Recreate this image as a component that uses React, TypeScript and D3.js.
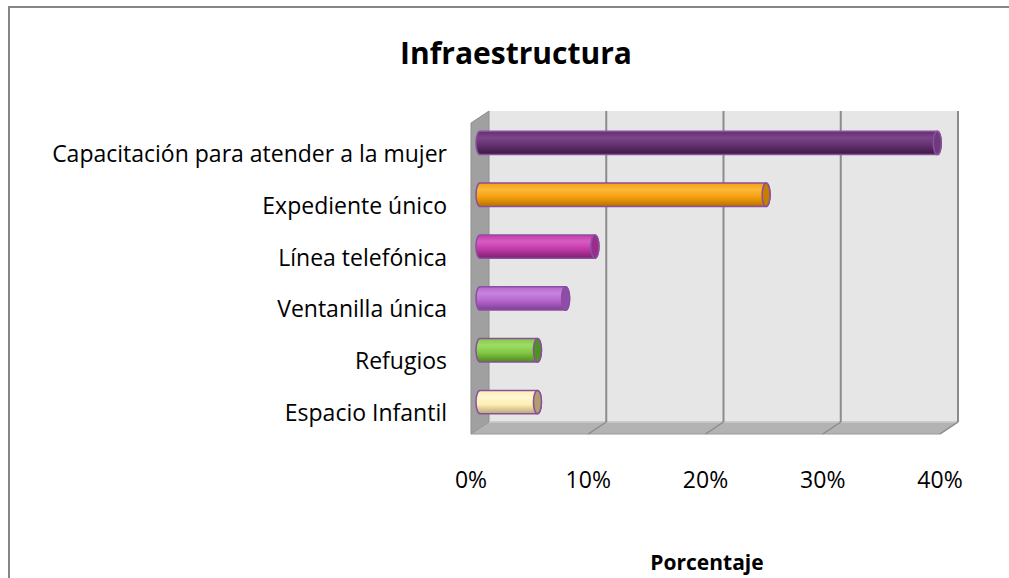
import * as d3 from "d3";

// values (share of answers)
const CATEGORIES = [
  "Capacitación para atender a la mujer",
  "Expediente único",
  "Línea telefónica",
  "Ventanilla única",
  "Refugios",
  "Espacio Infantil",
];
const VALUES = [0.39, 0.244, 0.098, 0.073, 0.049, 0.049];
const TICKS = [0, 0.1, 0.2, 0.3, 0.4];

// top / base / bottom / cap colours for each cylinder
const BAR_TOP = ["#7c4489", "#fbb83a", "#d85cc4", "#c785de", "#9fdc66", "#fff7d4"];
const BAR_BASE = ["#64306f", "#f5a00c", "#c23aa8", "#b566cc", "#82c846", "#ffeeb4"];
const BAR_BOTTOM = ["#3a1842", "#b86f00", "#7e1f6f", "#7e3e94", "#4d8a1c", "#b8a777"];
const BAR_CAP = ["#6e3a7b", "#c67e00", "#9a2c8a", "#8e4ea8", "#4f9222", "#b09e6e"];

const W = 1009;
const H = 578;
const BACK = { left: 489, right: 958, top: 111, bottom: 422 };
const DX = 18;
const DY = 12;
const FONT = "'Open Sans', Lato, sans-serif";

export default function App() {
  const x = d3.scaleLinear().domain([0, 0.4]).range([BACK.left, BACK.right]);
  const y = d3
    .scaleBand<string>()
    .domain(CATEGORIES)
    .range([BACK.top, BACK.bottom])
    .paddingInner(0.55)
    .paddingOuter(0.275);
  const band = d3.scaleBand<string>().domain(CATEGORIES).range([BACK.top, BACK.bottom]);

  const mx = DX / 2;
  const my = DY / 2;
  const h = y.bandwidth();
  const rx = 4;

  const pts = (p: [number, number][]) => p.map((d) => d.join(",")).join(" ");

  return (
    <svg
      width={W}
      height={H}
      style={{ position: "absolute", left: 0, top: 0, background: "#fff" }}
    >
      <defs>
        {CATEGORIES.map((_c, i) => (
          <linearGradient key={i} id={`cyl${i}`} x1="0" y1="0" x2="0" y2="1">
            <stop offset="0%" stopColor={BAR_BASE[i]} />
            <stop offset="28%" stopColor={BAR_TOP[i]} />
            <stop offset="60%" stopColor={BAR_BASE[i]} />
            <stop offset="100%" stopColor={BAR_BOTTOM[i]} />
          </linearGradient>
        ))}
      </defs>

      {/* chart area frame */}
      <rect x={9} y={7} width={W + 10} height={H + 10} fill="#fff" stroke="#868686" strokeWidth={2} />

      <text
        x={516}
        y={52}
        textAnchor="middle"
        dominantBaseline="central"
        fontFamily={FONT}
        fontWeight={700}
        fontSize={30}
        fill="#000"
      >
        Infraestructura
      </text>

      {/* walls */}
      <rect
        x={BACK.left}
        y={BACK.top}
        width={BACK.right - BACK.left}
        height={BACK.bottom - BACK.top}
        fill="#e6e6e6"
      />
      <polygon
        points={pts([
          [BACK.left - DX, BACK.top + DY],
          [BACK.left, BACK.top],
          [BACK.left, BACK.bottom],
          [BACK.left - DX, BACK.bottom + DY],
        ])}
        fill="#a0a0a0"
        stroke="#8e8e8e"
        strokeWidth={1}
      />
      <polygon
        points={pts([
          [BACK.left - DX, BACK.bottom + DY],
          [BACK.left, BACK.bottom],
          [BACK.right, BACK.bottom],
          [BACK.right - DX, BACK.bottom + DY],
        ])}
        fill="#b3b3b3"
        stroke="#9a9a9a"
        strokeWidth={1}
      />
      <line x1={BACK.left} x2={BACK.right} y1={BACK.bottom} y2={BACK.bottom} stroke="#cfcfcf" strokeWidth={1.5} />

      {/* gridlines */}
      {TICKS.filter((t) => t > 0).map((t) => (
        <g key={t}>
          <line
            x1={x(t)}
            x2={x(t)}
            y1={BACK.top}
            y2={BACK.bottom}
            stroke="#8c8c8c"
            strokeWidth={2}
          />
          <line
            x1={x(t)}
            x2={x(t) - DX}
            y1={BACK.bottom}
            y2={BACK.bottom + DY}
            stroke="#8c8c8c"
            strokeWidth={1.5}
          />
        </g>
      ))}

      {/* cylinders */}
      {CATEGORIES.map((c, i) => {
        const x0 = x(0) - mx;
        const x1 = x(VALUES[i]) - mx;
        const yt = (y(c) ?? 0) + my;
        const cy = yt + h / 2;
        const body = `M${x0},${yt} L${x1},${yt} A${rx},${h / 2} 0 0 1 ${x1},${yt + h} L${x0},${yt + h} A${rx},${h / 2} 0 0 1 ${x0},${yt} Z`;
        return (
          <g key={c}>
            <path d={body} fill={`url(#cyl${i})`} stroke="#8a4f9e" strokeWidth={1.5} />
            <ellipse cx={x1} cy={cy} rx={rx} ry={h / 2} fill={BAR_CAP[i]} stroke="#8a4f9e" strokeWidth={1.5} />
          </g>
        );
      })}

      {/* category labels */}
      {CATEGORIES.map((c) => (
        <text
          key={c}
          x={447}
          y={(band(c) ?? 0) + band.bandwidth() / 2 + DY + 4}
          textAnchor="end"
          dominantBaseline="central"
          fontFamily={FONT}
          fontSize={23}
          fill="#000"
        >
          {c}
        </text>
      ))}

      {/* value axis labels */}
      {TICKS.map((t) => (
        <text
          key={t}
          x={x(t) - DX}
          y={479}
          textAnchor="middle"
          dominantBaseline="central"
          fontFamily={FONT}
          fontSize={23}
          fill="#000"
        >
          {d3.format(".0%")(t)}
        </text>
      ))}

      <text
        x={707}
        y={562}
        textAnchor="middle"
        dominantBaseline="central"
        fontFamily={FONT}
        fontWeight={700}
        fontSize={21}
        fill="#000"
      >
        Porcentaje
      </text>
    </svg>
  );
}
